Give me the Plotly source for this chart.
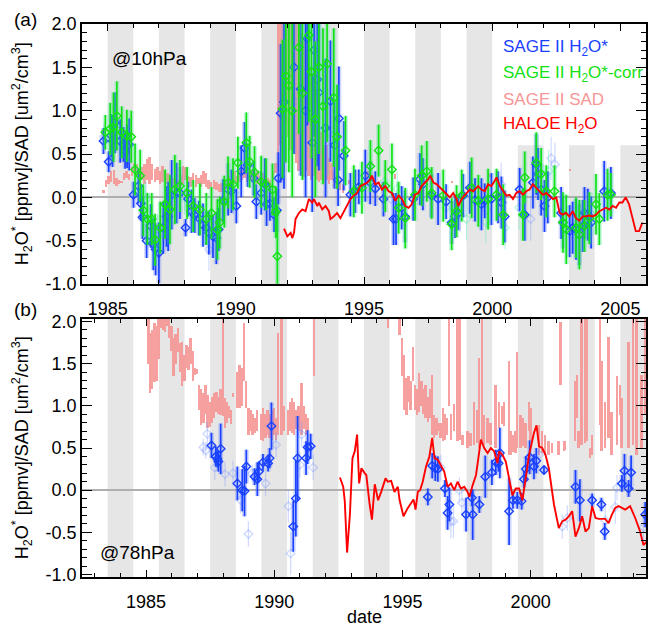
import plotly.graph_objects as go

# ---------------- data ----------------
a_range_x = [1984.0, 2006.0]
b_range_x = [1982.5, 2004.5]
a_range_y = [-1.0, 2.0]
b_range_y = [-1.03, 2.03]
x_tickvals = [1985, 1990, 1995, 2000, 2005]
x_ticktext = ["1985", "1990", "1995", "2000", "2005"]
y_tickvals = [-1.0, -0.5, 0.0, 0.5, 1.0, 1.5, 2.0]
y_ticktext = ["-1.0", "-0.5", "0.0", "0.5", "1.0", "1.5", "2.0"]

# shaded periods (start years, each one year long)
a_band_starts = [1985, 1987, 1989, 1991, 1993, 1995, 1997, 1999, 2001, 2003, 2005]
b_band_starts = [1983.5, 1985.5, 1987.5, 1989.5, 1991.5, 1993.5, 1995.5, 1997.5, 1999.5, 2001.5, 2003.5]

# panel (a) SAGE II H2O*  (year, value, error)
a_blue = [
    (1984.84, 0.65, 0.15), (1985.04, 0.41, 0.12), (1985.14, 0.71, 0.25), (1985.19, 0.65, 0.30),
    (1985.29, 0.86, 0.35), (1985.49, 0.65, 0.25), (1985.62, 0.61, 0.20), (1985.68, 0.53, 0.20),
    (1985.76, 0.59, 0.25), (1985.84, 0.61, 0.30), (1986.01, 0.03, 0.15), (1986.20, 0.13, 0.20),
    (1986.30, -0.07, 0.20), (1986.36, -0.23, 0.25), (1986.52, -0.50, 0.20), (1986.68, -0.33, 0.25),
    (1986.78, -0.54, 0.30), (1986.87, -0.60, 0.30), (1987.00, -0.64, 0.35), (1987.17, -0.35, 0.30),
    (1987.30, -0.22, 0.35), (1987.36, -0.22, 0.40), (1987.50, 0.03, 0.40), (1987.69, 0.05, 0.35),
    (1987.82, 0.05, 0.30), (1988.04, -0.35, 0.10), (1988.14, -0.02, 0.20), (1988.27, -0.16, 0.25),
    (1988.40, -0.21, 0.20), (1988.56, -0.24, 0.20), (1988.72, -0.32, 0.25), (1988.85, -0.35, 0.20),
    (1988.95, -0.41, 0.25), (1989.11, -0.45, 0.25), (1989.24, -0.47, 0.30), (1989.33, -0.37, 0.25),
    (1989.50, -0.04, 0.25), (1989.70, 0.09, 0.30), (1989.83, 0.07, 0.25), (1990.02, -0.10, 0.20),
    (1990.21, 0.30, 0.30), (1990.34, 0.57, 0.30), (1990.46, 0.37, 0.25), (1990.69, 0.22, 0.20),
    (1990.80, -0.05, 0.20), (1990.99, 0.05, 0.25), (1991.13, 0.15, 0.30), (1991.20, -0.08, 0.25),
    (1991.33, -0.07, 0.20), (1991.49, -0.20, 0.20), (1991.60, -0.15, 0.25), (1991.66, 0.22, 0.30),
    (1991.75, 0.97, 0.80), (1991.88, 1.10, 1.00), (1992.27, 1.50, 1.00), (1992.53, 1.25, 1.00),
    (1992.72, 1.00, 1.00), (1992.79, 1.83, 1.00), (1992.98, 0.63, 0.80), (1993.05, 1.70, 1.00),
    (1993.18, 1.36, 1.00), (1993.24, 1.21, 0.90), (1993.50, 0.80, 0.80), (1993.69, 1.11, 0.70),
    (1993.85, 0.60, 0.50), (1993.99, 0.20, 0.30),
    (1994.02, 0.91, 0.60), (1994.21, 0.48, 0.40), (1994.47, 0.03, 0.25), (1994.66, 0.07, 0.25),
    (1994.80, 0.12, 0.20), (1995.05, 0.25, 0.30), (1995.24, 0.17, 0.25), (1995.44, 0.10, 0.20),
    (1995.76, -0.02, 0.20), (1996.15, -0.25, 0.30), (1996.25, -0.25, 0.30), (1996.47, -0.12, 0.25),
    (1996.60, -0.22, 0.30), (1996.92, -0.02, 0.25), (1997.18, 0.21, 0.30), (1997.30, 0.15, 0.30),
    (1997.63, 0.02, 0.25), (1997.89, -0.02, 0.30), (1998.20, -0.05, 0.20), (1998.42, -0.29, 0.25),
    (1998.55, -0.22, 0.25), (1998.68, -0.18, 0.20), (1998.87, 0.02, 0.25), (1999.13, 0.11, 0.30),
    (1999.33, -0.03, 0.25), (1999.58, -0.08, 0.30), (1999.71, -0.04, 0.20), (1999.97, -0.02, 0.30),
    (2000.23, 0.00, 0.30), (2000.36, -0.06, 0.30), (2000.49, -0.22, 0.30), (2001.07, 0.09, 0.25),
    (2001.27, -0.20, 0.30), (2001.59, 0.17, 0.30), (2001.72, 0.38, 0.35), (2001.79, 0.27, 0.30),
    (2001.91, 0.09, 0.30), (2002.04, -0.10, 0.30), (2002.17, 0.00, 0.30), (2002.69, -0.18, 0.30),
    (2002.76, -0.29, 0.30), (2003.02, -0.39, 0.30), (2003.14, -0.35, 0.30), (2003.27, -0.37, 0.35),
    (2003.40, -0.43, 0.35), (2003.53, -0.33, 0.30), (2003.60, -0.18, 0.30), (2003.73, -0.20, 0.30),
    (2003.86, -0.29, 0.30), (2004.37, 0.07, 0.35), (2004.63, 0.05, 0.30),
]

# panel (a) SAGE II H2O*-corr
a_green = [
    (1984.91, 0.75, 0.20), (1985.10, 0.79, 0.30), (1985.23, 0.81, 0.40), (1985.36, 0.94, 0.40),
    (1985.55, 0.75, 0.30), (1985.75, 0.71, 0.30), (1985.92, 0.70, 0.30), (1986.07, 0.32, 0.30),
    (1986.27, 0.25, 0.30), (1986.39, -0.15, 0.30), (1986.55, -0.25, 0.30), (1986.72, -0.25, 0.30),
    (1986.85, -0.49, 0.30), (1987.05, -0.35, 0.30), (1987.24, -0.08, 0.40), (1987.43, -0.14, 0.40),
    (1987.62, 0.09, 0.40), (1987.82, 0.13, 0.30), (1988.10, 0.05, 0.30), (1988.34, -0.10, 0.30),
    (1988.60, -0.14, 0.30), (1988.85, -0.25, 0.30), (1989.05, -0.18, 0.30), (1989.28, -0.37, 0.35),
    (1989.37, -0.29, 0.30), (1989.55, -0.05, 0.30), (1989.70, 0.17, 0.30), (1989.89, 0.15, 0.30),
    (1990.08, 0.40, 0.30), (1990.41, 0.63, 0.35), (1990.54, 0.41, 0.30), (1990.73, 0.29, 0.30),
    (1990.99, 0.18, 0.30), (1991.18, 0.15, 0.30), (1991.43, 0.09, 0.30), (1991.56, -0.17, 0.30),
    (1991.62, -0.68, 0.60), (1991.82, 1.02, 0.80), (1991.95, 1.40, 1.00), (1992.07, 1.29, 1.00),
    (1992.20, 1.00, 1.00), (1992.46, 1.73, 1.00), (1992.60, 1.20, 1.00), (1992.85, 1.87, 1.00),
    (1992.95, 1.45, 1.00), (1993.10, 0.90, 0.90), (1993.24, 1.50, 1.00), (1993.40, 1.05, 0.90),
    (1993.56, 1.54, 0.90), (1993.82, 1.15, 0.80), (1993.95, 0.70, 0.60),
    (1994.28, 0.54, 0.40), (1994.60, 0.07, 0.30), (1994.92, 0.11, 0.30), (1995.25, 0.36, 0.30),
    (1995.57, 0.54, 0.30), (1995.83, 0.13, 0.30), (1996.09, 0.32, 0.30), (1996.35, -0.12, 0.30),
    (1996.61, -0.24, 0.35), (1996.99, 0.03, 0.30), (1997.25, 0.25, 0.35), (1997.45, 0.30, 0.35),
    (1997.64, 0.05, 0.30), (1998.09, 0.02, 0.30), (1998.42, -0.31, 0.30), (1998.61, -0.16, 0.30),
    (1998.81, 0.02, 0.30), (1999.20, 0.11, 0.35), (1999.46, -0.04, 0.30), (1999.84, -0.02, 0.35),
    (2000.17, 0.03, 0.30), (2000.43, -0.20, 0.35), (2001.20, -0.20, 0.30), (2001.27, 0.23, 0.30),
    (2001.72, 0.40, 0.35), (2001.91, 0.27, 0.30), (2002.11, 0.07, 0.30), (2002.43, 0.07, 0.30),
    (2002.76, -0.29, 0.35), (2002.89, -0.37, 0.40), (2003.27, -0.35, 0.35), (2003.40, -0.43, 0.40),
    (2003.60, -0.33, 0.30), (2003.79, -0.24, 0.30), (2004.05, -0.08, 0.35), (2004.18, -0.25, 0.30),
    (2004.50, 0.03, 0.30), (2004.63, 0.03, 0.25),
]

# panel (a) low-weight retrievals (faint symbols)
a_blue_faint = [
    (1984.85, 0.70, 0.15), (1986.50, -0.02, 0.20), (1986.95, -0.45, 0.25), (1988.00, 0.05, 0.20),
    (1988.95, -0.60, 0.25), (1989.90, 0.00, 0.20), (1992.30, 1.10, 0.60), (1993.10, 1.50, 0.60),
    (1996.05, -0.02, 0.20), (1998.75, -0.20, 0.20), (1999.80, -0.15, 0.20), (2000.35, 0.15, 0.25),
    (2001.50, -0.25, 0.25), (2002.30, 0.45, 0.25), (2002.45, 0.38, 0.25), (2004.48, 0.08, 0.25),
]
a_green_faint = [
    (1985.50, 0.72, 0.20), (1986.45, 0.02, 0.20), (1988.00, 0.00, 0.20), (1989.95, 0.05, 0.20),
    (1992.70, 1.00, 0.60), (1993.60, 0.75, 0.50), (1995.80, 0.18, 0.20), (1996.30, 0.10, 0.20),
    (1998.20, -0.12, 0.20), (1999.00, -0.25, 0.25), (1999.75, -0.28, 0.25), (2000.50, -0.35, 0.25),
    (2001.05, -0.12, 0.25), (2002.20, 0.30, 0.25), (2003.90, -0.20, 0.25), (2004.55, 0.03, 0.25),
]

# panel (a) SAGE II SAD ranges (year, low, high)
a_sad = [
    (1984.85, 0.05, 0.09), (1984.95, 0.12, 0.20), (1985.05, 0.15, 0.25), (1985.15, 0.18, 0.30),
    (1985.25, 0.15, 0.32), (1985.35, 0.13, 0.22), (1985.45, 0.15, 0.20), (1985.55, 0.16, 0.19),
    (1985.65, 0.20, 0.28), (1985.75, 0.22, 0.30), (1985.85, 0.20, 0.27), (1985.95, 0.25, 0.35),
    (1986.05, 0.30, 0.40), (1986.15, 0.26, 0.38), (1986.25, 0.22, 0.30), (1986.35, 0.20, 0.35),
    (1986.45, 0.15, 0.38), (1986.55, 0.20, 0.44), (1986.65, 0.15, 0.47), (1986.75, 0.20, 0.38),
    (1986.85, 0.18, 0.33), (1986.95, 0.20, 0.35), (1987.05, 0.15, 0.30), (1987.15, 0.18, 0.36),
    (1987.25, 0.20, 0.32), (1987.35, 0.15, 0.28), (1987.45, 0.12, 0.25), (1987.55, 0.10, 0.22),
    (1987.65, 0.12, 0.25), (1987.75, 0.10, 0.20), (1987.85, 0.13, 0.26), (1987.95, 0.15, 0.36),
    (1988.05, 0.20, 0.35), (1988.15, 0.15, 0.25), (1988.25, 0.12, 0.24), (1988.35, 0.14, 0.28),
    (1988.45, 0.12, 0.26), (1988.55, 0.15, 0.22), (1988.65, 0.12, 0.26), (1988.75, 0.15, 0.30),
    (1988.85, 0.12, 0.28), (1988.95, 0.10, 0.20), (1989.05, 0.12, 0.18), (1989.15, 0.10, 0.20),
    (1989.25, 0.08, 0.18), (1989.35, 0.06, 0.15), (1989.45, 0.06, 0.17), (1989.55, 0.10, 0.22),
    (1989.65, 0.10, 0.20), (1989.75, 0.12, 0.25), (1989.85, 0.10, 0.28), (1989.95, 0.15, 0.30),
    (1990.05, 0.15, 0.25), (1990.15, 0.18, 0.32), (1990.25, 0.20, 0.35), (1990.35, 0.22, 0.38),
    (1990.45, 0.18, 0.30), (1990.55, 0.20, 0.33), (1990.65, 0.18, 0.30), (1990.75, 0.20, 0.28),
    (1990.85, 0.15, 0.30), (1990.95, 0.13, 0.25), (1991.05, 0.15, 0.28), (1991.15, 0.13, 0.25),
    (1991.25, 0.15, 0.22), (1991.35, 0.12, 0.20), (1991.45, 0.20, 0.30), (1991.55, 0.28, 0.40),
    (1991.65, 0.29, 2.10), (1991.75, 0.60, 2.10), (1991.85, 1.05, 2.10), (1991.95, 0.85, 2.10),
    (1992.05, 0.70, 2.10), (1992.15, 0.55, 2.10), (1992.25, 0.50, 2.10), (1992.35, 0.40, 2.10),
    (1992.45, 0.30, 2.10), (1992.55, 0.25, 1.90), (1992.65, 0.23, 1.80), (1992.75, 0.30, 2.10),
    (1992.85, 0.25, 1.60), (1992.95, 0.20, 1.50), (1993.05, 0.25, 1.40), (1993.15, 0.20, 1.20),
    (1993.25, 0.18, 1.00), (1993.35, 0.20, 0.75), (1993.45, 0.17, 0.60), (1993.55, 0.20, 0.60),
    (1993.65, 0.15, 0.45), (1993.75, 0.20, 0.40), (1993.85, 0.12, 0.30), (1993.95, 0.10, 0.25),
    (1994.05, 0.08, 0.20), (1994.20, 0.05, 0.15), (1994.45, 0.15, 0.20), (1995.15, 0.22, 0.30),
    (1996.23, 0.21, 0.27), (1998.45, 0.16, 0.19), (1999.95, 0.24, 0.27), (2001.10, 0.27, 0.30),
    (2003.04, 0.30, 0.33),
]

# panel (a) HALOE H2O
a_haloe_x = [
    1991.88, 1992.01, 1992.14, 1992.20, 1992.27, 1992.33, 1992.46, 1992.59, 1992.72, 1992.85,
    1992.98, 1993.05, 1993.18, 1993.24, 1993.37, 1993.50, 1993.63, 1993.69, 1993.82, 1993.95,
    1994.08, 1994.21, 1994.34, 1994.47, 1994.60, 1994.73, 1994.86, 1994.99, 1995.12, 1995.25,
    1995.31, 1995.44, 1995.57, 1995.70, 1995.83, 1995.96, 1996.09, 1996.22, 1996.35, 1996.48,
    1996.61, 1996.74, 1996.86, 1996.99, 1997.12, 1997.25, 1997.38, 1997.51, 1997.58, 1997.71,
    1997.84, 1997.97, 1998.10, 1998.22, 1998.35, 1998.48, 1998.61, 1998.68, 1998.81, 1998.94,
    1999.13, 1999.26, 1999.45, 1999.58, 1999.71, 1999.84, 1999.97, 2000.10, 2000.17, 2000.30,
    2000.42, 2000.55, 2000.68, 2000.81, 2000.94, 2001.07, 2001.20, 2001.33, 2001.46, 2001.59,
    2001.72, 2001.85, 2001.98, 2002.11, 2002.24, 2002.37, 2002.50, 2002.63, 2002.75, 2002.88,
    2003.01, 2003.14, 2003.27, 2003.40, 2003.53, 2003.66, 2003.79, 2003.92, 2004.05, 2004.18,
    2004.31, 2004.44, 2004.57, 2004.70, 2004.83, 2004.96, 2005.08, 2005.21, 2005.34, 2005.47,
    2005.60, 2005.73, 2005.86,
]
a_haloe_y = [
    -0.36, -0.45, -0.41, -0.47, -0.41, -0.25, -0.18, -0.14, -0.16, -0.02,
    -0.06, -0.02, -0.10, -0.06, -0.14, -0.10, -0.16, -0.25, -0.22, -0.18,
    -0.24, -0.16, -0.10, -0.02, 0.02, 0.05, 0.13, 0.15, 0.17, 0.21,
    0.25, 0.15, 0.17, 0.09, 0.13, 0.07, 0.05, -0.04, 0.02, -0.02,
    -0.10, -0.12, -0.08, 0.03, 0.05, 0.13, 0.17, 0.21, 0.25, 0.17,
    0.15, 0.11, 0.07, 0.03, 0.00, 0.05, -0.02, -0.10, -0.02, 0.03,
    0.09, 0.07, 0.13, 0.09, 0.07, 0.15, 0.13, 0.19, 0.23, 0.13,
    0.07, 0.02, 0.03, -0.02, 0.05, 0.07, 0.03, 0.07, 0.09, 0.15,
    0.11, 0.07, 0.03, 0.05, 0.02, -0.02, 0.00, -0.18, -0.20, -0.18,
    -0.22, -0.16, -0.24, -0.27, -0.22, -0.22, -0.21, -0.22, -0.20, -0.16,
    -0.14, -0.12, -0.14, -0.10, -0.12, -0.06, -0.06, 0.00, -0.08, -0.22,
    -0.39, -0.39, -0.29,
]

# panel (b) SAGE II H2O*
b_blue = [
    (1987.55, 0.53, 0.15), (1987.72, 0.40, 0.12), (1987.78, 0.37, 0.10), (1987.82, 0.34, 0.12),
    (1987.91, 0.49, 0.30), (1988.56, 0.08, 0.20), (1988.75, 0.00, 0.25), (1988.84, -0.01, 0.30),
    (1988.91, 0.28, 0.20), (1989.23, 0.16, 0.10), (1989.34, 0.13, 0.20), (1989.40, 0.22, 0.12),
    (1989.56, 0.33, 0.10), (1989.76, 0.32, 0.10), (1989.82, 0.38, 0.12), (1989.89, 0.76, 0.28),
    (1990.74, -0.43, 0.30), (1990.84, -0.10, 0.45), (1990.91, 0.38, 0.50), (1991.24, 0.38, 0.20),
    (1991.30, 0.51, 0.20), (1991.42, 0.52, 0.15), (1995.99, -0.08, 0.10), (1996.16, 0.29, 0.15),
    (1996.28, 0.26, 0.15), (1996.38, 0.25, 0.15), (1996.66, 0.02, 0.10), (1996.76, -0.27, 0.20),
    (1996.83, -0.17, 0.20), (1997.48, -0.29, 0.20), (1997.71, -0.09, 0.10), (1997.74, -0.29, 0.30),
    (1998.00, -0.17, 0.10), (1998.23, 0.16, 0.25), (1998.49, 0.21, 0.15), (1998.64, 0.33, 0.15),
    (1998.75, 0.32, 0.10), (1998.80, 0.44, 0.30), (1999.16, -0.25, 0.40), (1999.31, -0.12, 0.10),
    (1999.48, -0.12, 0.10), (1999.65, -0.13, 0.10), (1999.74, 0.13, 0.10), (1999.81, 0.25, 0.15),
    (1999.96, 0.39, 0.20), (2000.13, 0.28, 0.15), (2000.22, 0.35, 0.15), (2000.52, 0.24, 0.05),
    (2001.75, 0.04, 0.20), (2001.92, -0.12, 0.25), (2002.40, -0.12, 0.08), (2002.76, -0.17, 0.08),
    (2002.89, -0.49, 0.10), (2003.56, 0.08, 0.10), (2003.66, 0.23, 0.20), (2003.82, 0.02, 0.10),
    (2003.92, 0.21, 0.20), (2004.47, -0.29, 0.15),
]
b_blue_faint = [
    (1987.23, 0.51, 0.10), (1987.33, 0.47, 0.10), (1987.39, 0.67, 0.15), (1987.68, 0.27, 0.15),
    (1988.08, 0.19, 0.15), (1988.39, 0.20, 0.15), (1988.69, -0.12, 0.15), (1988.99, -0.52, 0.15),
    (1989.14, 0.20, 0.10), (1989.66, 0.08, 0.15), (1990.07, 0.54, 0.15), (1990.55, -0.19, 0.20),
    (1990.64, -0.75, 0.25), (1991.00, 0.30, 0.15), (1991.07, 0.66, 0.15), (1991.52, 0.27, 0.15),
    (1996.50, 0.27, 0.15), (1996.89, -0.37, 0.20), (1996.99, -0.37, 0.20), (1997.22, 0.00, 0.15),
    (1997.32, -0.15, 0.15), (2000.33, 0.42, 0.15), (2001.23, -0.43, 0.15), (2001.43, -0.33, 0.15),
    (2002.91, -0.36, 0.20), (2003.30, -0.20, 0.20), (2003.37, 0.03, 0.15), (2004.40, -0.44, 0.20),
]

# panel (b) SAGE II SAD ranges (year, low, high)
b_sad = [
    (1985.10, 1.50, 2.05), (1985.17, 1.15, 1.86), (1985.25, 1.20, 1.90), (1985.33, 1.28, 1.98),
    (1985.41, 1.30, 1.95), (1985.50, 1.55, 2.05), (1985.58, 1.92, 2.05), (1985.66, 1.90, 2.05),
    (1985.75, 1.88, 2.05), (1985.83, 1.95, 2.05), (1985.91, 1.80, 2.05), (1986.00, 1.65, 1.95),
    (1986.08, 1.35, 1.80), (1986.16, 1.50, 1.85), (1986.25, 1.64, 1.92), (1986.33, 1.40, 1.75),
    (1986.41, 1.23, 1.76), (1986.50, 1.30, 1.60), (1986.58, 1.45, 1.72), (1986.66, 1.42, 1.70),
    (1986.75, 1.50, 1.80), (1986.83, 1.30, 1.65), (1986.91, 1.37, 1.45), (1987.00, 1.38, 1.44),
    (1987.08, 0.95, 1.25), (1987.16, 0.77, 1.20), (1987.25, 0.80, 1.15), (1987.33, 0.90, 1.25),
    (1987.41, 0.74, 1.13), (1987.50, 0.75, 1.05), (1987.58, 0.80, 1.10), (1987.66, 0.85, 1.15),
    (1987.75, 0.93, 1.17), (1987.83, 0.90, 1.10), (1987.91, 0.89, 1.20), (1988.00, 0.88, 2.08),
    (1988.08, 0.74, 1.09), (1988.16, 0.80, 1.05), (1988.25, 0.85, 1.00), (1988.33, 0.78, 0.95),
    (1988.41, 1.10, 1.15), (1988.58, 0.97, 1.40), (1988.66, 0.98, 1.49), (1988.75, 1.00, 1.45),
    (1988.83, 1.29, 1.98), (1988.91, 0.97, 1.30), (1989.00, 0.66, 0.97), (1989.08, 0.70, 0.95),
    (1989.16, 0.66, 0.90), (1989.25, 0.68, 0.85), (1989.33, 0.70, 0.95), (1989.50, 0.60, 0.90),
    (1989.58, 0.58, 0.97), (1989.66, 0.62, 0.90), (1989.75, 0.65, 0.95), (1989.83, 0.62, 0.90),
    (1989.91, 0.60, 0.95), (1990.00, 0.66, 0.97), (1990.08, 0.60, 0.85), (1990.16, 0.66, 1.86),
    (1990.29, 0.66, 2.08), (1990.37, 0.70, 1.00), (1990.55, 0.66, 0.95), (1990.63, 0.70, 1.05),
    (1990.71, 0.68, 1.09), (1990.79, 0.66, 1.05), (1990.87, 0.72, 0.95), (1990.95, 0.70, 1.00),
    (1991.07, 0.66, 1.27), (1991.15, 0.72, 1.00), (1991.25, 0.66, 0.90), (1991.33, 0.70, 0.85),
    (1991.56, 1.35, 2.08),
    (1994.45, 1.92, 2.08), (1994.90, 1.84, 2.08), (1995.00, 1.35, 1.80), (1995.08, 0.95, 1.60),
    (1995.16, 0.89, 1.33), (1995.25, 1.05, 1.35), (1995.33, 0.95, 1.30), (1995.41, 1.30, 1.70),
    (1995.50, 0.95, 1.25), (1995.58, 0.89, 1.20), (1995.66, 0.93, 1.39), (1995.75, 1.00, 1.30),
    (1995.83, 0.90, 1.20), (1995.91, 0.85, 1.25), (1996.00, 0.81, 1.10), (1996.08, 0.85, 1.20),
    (1996.16, 0.66, 1.37), (1996.25, 0.62, 0.89), (1996.33, 0.65, 0.85), (1996.41, 0.70, 0.80),
    (1996.50, 0.62, 0.80), (1996.58, 0.58, 0.97), (1996.66, 0.60, 0.90), (1996.75, 0.65, 0.85),
    (1996.83, 1.00, 2.08), (1996.91, 0.60, 0.90), (1997.02, 0.70, 1.02), (1997.15, 0.58, 2.08),
    (1997.25, 0.60, 2.08), (1997.35, 0.54, 0.66), (1997.54, 0.50, 0.70), (1997.66, 0.52, 0.68),
    (1997.80, 0.54, 1.05), (1997.93, 0.56, 0.95), (1998.00, 0.50, 1.57), (1998.12, 0.58, 2.08),
    (1998.19, 0.54, 0.89), (1998.32, 0.56, 0.85), (1998.45, 0.54, 0.80), (1998.64, 0.50, 1.25),
    (1998.77, 0.74, 1.05), (1998.90, 0.78, 1.00), (1998.97, 0.76, 1.05), (1999.16, 0.42, 1.53),
    (1999.22, 0.42, 0.70), (1999.34, 0.45, 0.65), (1999.42, 0.44, 0.70), (1999.48, 0.50, 1.64),
    (1999.61, 0.50, 0.89), (1999.71, 0.52, 0.85), (1999.81, 0.50, 0.80), (1999.94, 0.70, 1.05),
    (2000.00, 0.58, 0.97), (2000.33, 0.42, 0.77), (2000.45, 0.44, 0.70), (2000.58, 0.42, 0.66),
    (2000.71, 0.42, 0.58), (2000.85, 0.44, 0.56), (2001.10, 0.42, 0.58), (2001.17, 1.25, 2.00),
    (2001.30, 0.46, 0.58), (2001.36, 0.48, 0.58), (2001.75, 0.58, 1.29), (2001.81, 0.86, 1.37),
    (2001.88, 0.50, 0.70), (2002.00, 0.54, 2.08), (2002.14, 0.56, 2.08), (2002.20, 0.58, 2.04),
    (2002.33, 0.38, 0.50), (2002.40, 0.42, 0.66), (2002.72, 0.77, 2.04), (2002.78, 0.46, 1.53),
    (2002.91, 0.50, 1.05), (2003.04, 0.62, 1.82), (2003.17, 0.42, 0.93), (2003.37, 0.54, 1.35),
    (2003.50, 0.89, 1.25), (2003.56, 0.50, 1.09), (2003.82, 0.50, 1.76), (2004.01, 0.54, 2.08),
    (2004.14, 0.42, 2.08), (2004.34, 0.50, 1.37), (2004.47, 0.89, 2.08),
]

# panel (b) HALOE H2O
b_haloe_x = [
    1992.56, 1992.69, 1992.75, 1992.84, 1992.95, 1993.05, 1993.14, 1993.23, 1993.31, 1993.40,
    1993.53, 1993.59, 1993.72, 1993.81, 1993.92, 1994.05, 1994.17, 1994.34, 1994.43, 1994.56,
    1994.69, 1994.82, 1994.89, 1995.04, 1995.21, 1995.34, 1995.43, 1995.51, 1995.60, 1995.69,
    1995.79, 1995.92, 1996.05, 1996.16, 1996.25, 1996.38, 1996.50, 1996.63, 1996.76, 1996.89,
    1997.02, 1997.15, 1997.28, 1997.41, 1997.54, 1997.61, 1997.74, 1997.87, 1998.06, 1998.19,
    1998.32, 1998.45, 1998.58, 1998.71, 1998.77, 1998.90, 1999.03, 1999.16, 1999.29, 1999.42,
    1999.55, 1999.68, 1999.81, 1999.94, 2000.13, 2000.23, 2000.33, 2000.45, 2000.58, 2000.71,
    2000.91, 2001.10, 2001.23, 2001.36, 2001.49, 2001.62, 2001.75, 2001.88, 2002.01, 2002.14,
    2002.27, 2002.40, 2002.53, 2002.66, 2002.91, 2003.04, 2003.17, 2003.30, 2003.43, 2003.56,
    2003.69, 2003.88, 2004.08, 2004.27, 2004.40, 2004.53,
]
b_haloe_y = [
    0.15, 0.04, -0.13, -0.74, -0.29, 0.38, 0.46, 0.66, 0.08, 0.26,
    0.20, 0.18, -0.17, -0.35, 0.07, -0.12, -0.02, 0.14, 0.10, 0.11,
    -0.02, 0.04, -0.12, -0.31, -0.21, -0.15, -0.11, -0.23, -0.02, 0.00,
    0.10, 0.28, 0.40, 0.62, 0.38, 0.36, 0.30, 0.22, 0.04, 0.08,
    0.00, 0.10, 0.02, 0.04, -0.02, -0.08, 0.06, 0.18, 0.60, 0.50,
    0.44, 0.50, 0.46, 0.32, 0.46, 0.42, 0.34, 0.12, -0.06, 0.02,
    0.02, -0.12, 0.14, 0.42, 0.68, 0.77, 0.52, 0.50, 0.42, 0.26,
    -0.17, -0.45, -0.37, -0.35, -0.31, -0.25, -0.55, -0.45, -0.31, -0.49,
    -0.45, -0.19, -0.33, -0.34, -0.34, -0.39, -0.29, -0.21, -0.19, -0.21,
    -0.23, -0.19, -0.33, -0.49, -0.65, -0.61,
]

# ---------------- styles ----------------
BLUE = "rgb(25,65,255)"
BLUE_SHADE = "rgba(90,120,255,0.28)"
BLUE_FAINT = "rgba(120,150,255,0.35)"
GREEN = "rgb(20,225,20)"
GREEN_SHADE = "rgba(60,230,140,0.30)"
GREEN_FAINT = "rgba(90,235,180,0.40)"
PINK = "rgb(246,150,150)"
RED = "rgb(255,0,0)"
BAND = "#e6e6e6"
FONT = "Liberation Sans, Arial, Helvetica, sans-serif"


def cols(rows):
    return [list(c) for c in zip(*rows)]


fig = go.Figure()


def add_points(rows, color, shade, xa, ya, faint=False):
    x, y, e = cols(rows)
    if not faint:
        fig.add_trace(go.Scatter(
            x=x, y=y, mode="markers", xaxis=xa, yaxis=ya,
            marker=dict(size=1, color="rgba(0,0,0,0)"),
            error_y=dict(type="data", array=e, color=shade, thickness=5, width=0),
            hoverinfo="skip"))
    fig.add_trace(go.Scatter(
        x=x, y=y, mode="markers", xaxis=xa, yaxis=ya,
        marker=dict(symbol="diamond-open", size=6.5, color=color, line=dict(width=1.4, color=color)),
        error_y=dict(type="data", array=e, color=color, thickness=1.7 if not faint else 1.2, width=0)))


def add_sad(rows, xa, ya):
    x, lo, hi = cols(rows)
    fig.add_trace(go.Bar(
        x=x, y=[h - l for l, h in zip(lo, hi)], base=lo, width=0.075,
        marker=dict(color=PINK, line=dict(width=0)), opacity=0.9,
        xaxis=xa, yaxis=ya))


# panel (a)
add_sad(a_sad, "x", "y")
add_points(a_blue_faint, BLUE_FAINT, None, "x", "y", faint=True)
add_points(a_green_faint, GREEN_FAINT, None, "x", "y", faint=True)
add_points(a_blue, BLUE, BLUE_SHADE, "x", "y")
add_points(a_green, GREEN, GREEN_SHADE, "x", "y")
fig.add_trace(go.Scatter(x=a_haloe_x, y=a_haloe_y, mode="lines", line=dict(color=RED, width=1.9),
                         xaxis="x", yaxis="y"))

# panel (b)
add_sad(b_sad, "x2", "y2")
add_points(b_blue_faint, BLUE_FAINT, None, "x2", "y2", faint=True)
add_points(b_blue, BLUE, BLUE_SHADE, "x2", "y2")
fig.add_trace(go.Scatter(x=b_haloe_x, y=b_haloe_y, mode="lines", line=dict(color=RED, width=1.9),
                         xaxis="x2", yaxis="y2"))

# shaded periods
shapes = []
for s in a_band_starts:
    shapes.append(dict(type="rect", xref="x", yref="y domain", x0=s, x1=min(s + 1, a_range_x[1]),
                       y0=0, y1=1, fillcolor=BAND, line=dict(width=0), layer="below"))
for s in b_band_starts:
    shapes.append(dict(type="rect", xref="x2", yref="y2 domain", x0=s, x1=min(s + 1, b_range_x[1]),
                       y0=0, y1=1, fillcolor=BAND, line=dict(width=0), layer="below"))
# legend background
shapes.append(dict(type="rect", xref="x", yref="y", x0=2000.2, x1=a_range_x[1], y0=0.6, y1=2.0,
                   fillcolor="white", line=dict(width=0), layer="below"))

legend_items = [
    ("SAGE II H<sub>2</sub>O*", BLUE, 1.72),
    ("SAGE II H<sub>2</sub>O*-corr", GREEN, 1.42),
    ("SAGE II SAD", PINK, 1.13),
    ("HALOE H<sub>2</sub>O", RED, 0.83),
]

ytitle = "H<sub>2</sub>O<sup>*</sup> [ppmv]/SAD [um<sup>2</sup>/cm<sup>3</sup>]"
annotations = []
for txt, c, yy in legend_items:
    annotations.append(dict(text=txt, xref="x", yref="y", x=2000.35, y=yy, xanchor="left",
                            yanchor="middle", showarrow=False, font=dict(size=17, color=c, family=FONT)))
annotations += [
    dict(text="(a)", xref="paper", yref="paper", x=-0.1007, y=(577 - 19) / 553, showarrow=False,
         xanchor="center", yanchor="middle", font=dict(size=19)),
    dict(text="(b)", xref="paper", yref="paper", x=-0.1007, y=(577 - 309) / 553, showarrow=False,
         xanchor="center", yanchor="middle", font=dict(size=19)),
    dict(text="@10hPa", xref="x", yref="y", x=1985.09, y=1.6, xanchor="left", yanchor="middle",
         showarrow=False, font=dict(size=19)),
    dict(text="@78hPa", xref="x2", yref="y2", x=1983.12, y=-0.74, xanchor="left", yanchor="middle",
         showarrow=False, font=dict(size=19)),
    dict(text=ytitle, xref="paper", yref="y domain", x=-0.1078, y=0.5, textangle=-90,
         xanchor="center", yanchor="middle", showarrow=False, font=dict(size=18)),
    dict(text=ytitle, xref="paper", yref="y2 domain", x=-0.1078, y=0.5, textangle=-90,
         xanchor="center", yanchor="middle", showarrow=False, font=dict(size=18)),
    dict(text="date", xref="paper", yref="paper", x=0.5, y=(577 - 617) / 553, xanchor="center",
         yanchor="middle", showarrow=False, font=dict(size=18)),
]

common = dict(showline=True, linecolor="black", linewidth=1.5, mirror="ticks", ticks="inside",
              tickcolor="black", tickwidth=1, showgrid=False, tickfont=dict(size=18))
xcommon = dict(common, tickmode="array", tickvals=x_tickvals, ticktext=x_ticktext, ticklen=7,
               zeroline=False, ticklabelstandoff=8,
               minor=dict(tickmode="linear", tick0=1980, dtick=1, ticks="inside", ticklen=4,
                          tickcolor="black", tickwidth=1))
ycommon = dict(common, tickmode="array", tickvals=y_tickvals, ticktext=y_ticktext, ticklen=10,
               zeroline=True, zerolinecolor="rgb(175,175,175)", zerolinewidth=1.5,
               minor=dict(tickmode="linear", tick0=0, dtick=0.1, ticks="inside", ticklen=5,
                          tickcolor="black", tickwidth=1))

fig.update_layout(
    width=649, height=629,
    margin=dict(l=82, r=1, t=24, b=52),
    plot_bgcolor="white", paper_bgcolor="white",
    showlegend=False, barmode="overlay", bargap=0,
    font=dict(family=FONT, size=18, color="black"),
    xaxis=dict(xcommon, range=a_range_x, anchor="y", domain=[0, 1]),
    yaxis=dict(ycommon, range=a_range_y, anchor="x", domain=[0.5298, 1.0]),
    xaxis2=dict(xcommon, range=b_range_x, anchor="y2", domain=[0, 1]),
    yaxis2=dict(ycommon, range=b_range_y, anchor="x2", domain=[0.0, 0.4665]),
    shapes=shapes,
    annotations=annotations,
)

fig.write_html("out.html")
